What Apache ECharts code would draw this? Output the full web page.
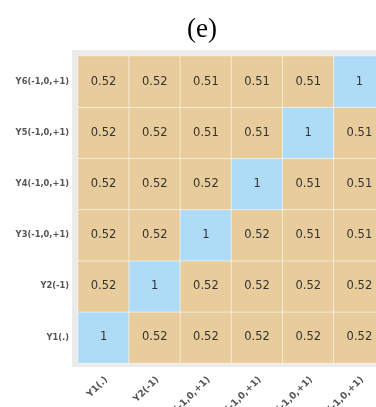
<!DOCTYPE html>
<html><head><meta charset="utf-8">
<script src="https://cdn.jsdelivr.net/npm/echarts@6/dist/echarts.min.js"></script>
<style>html,body{margin:0;padding:0;background:#fff}#c{width:376px;height:407px}</style>
</head><body><div id="c"></div>
<script>
var categories = ["Y1(.)", "Y2(-1)", "Y3(-1,0,+1)", "Y4(-1,0,+1)", "Y5(-1,0,+1)", "Y6(-1,0,+1)"];
var rowY1 = [1, 0.52, 0.52, 0.52, 0.52, 0.52];
var rowY2 = [0.52, 1, 0.52, 0.52, 0.52, 0.52];
var rowY3 = [0.52, 0.52, 1, 0.52, 0.51, 0.51];
var rowY4 = [0.52, 0.52, 0.52, 1, 0.51, 0.51];
var rowY5 = [0.52, 0.52, 0.51, 0.51, 1, 0.51];
var rowY6 = [0.52, 0.52, 0.51, 0.51, 0.51, 1];
var rows = [rowY1, rowY2, rowY3, rowY4, rowY5, rowY6];
var data = [];
rows.forEach(function (r, yi) { r.forEach(function (v, xi) { data.push([xi, yi, v]); }); });

var chart = echarts.init(document.getElementById('c'));
var gridLeft = 78, gridTop = 56, gridW = 307, gridH = 307;
chart.setOption({
  animation: false,
  title: { text: '(e)', left: 197, top: 11, textAlign: 'center',
    textStyle: { fontFamily: 'Liberation Serif', fontSize: 27, fontWeight: 'normal', color: '#000' } },
  graphic: [{ type: 'rect', z: -10, shape: { x: gridLeft - 6, y: gridTop - 6, width: gridW + 12, height: gridH + 10 },
    style: { fill: '#ebebeb' } }],
  grid: { left: gridLeft, top: gridTop, width: gridW, height: gridH, outerBoundsMode: 'none', containLabel: false },
  xAxis: { type: 'category', data: categories, axisLine: { show: false }, axisTick: { show: false },
    splitLine: { show: false },
    axisLabel: { rotate: 45, fontSize: 9.3, fontWeight: 'bold', color: '#555', margin: 18,
      padding: [0, -4, 0, 0], fontFamily: 'DejaVu Sans' } },
  yAxis: { type: 'category', data: categories, axisLine: { show: false }, axisTick: { show: false },
    axisLabel: { fontSize: 8.3, fontWeight: 'bold', color: '#555', margin: 9, fontFamily: 'DejaVu Sans' } },
  visualMap: { show: false, type: 'piecewise', dimension: 2,
    pieces: [{ min: 0.99, color: '#aedcf7' }, { max: 0.99, color: '#e8cc9b' }] },
  series: [{ type: 'heatmap', data: data,
    itemStyle: { borderColor: 'rgba(255,255,255,0.55)', borderWidth: 1 },
    label: { show: true, fontSize: 11.5, color: '#333', fontFamily: 'DejaVu Sans' } }]
});
</script></body></html>
